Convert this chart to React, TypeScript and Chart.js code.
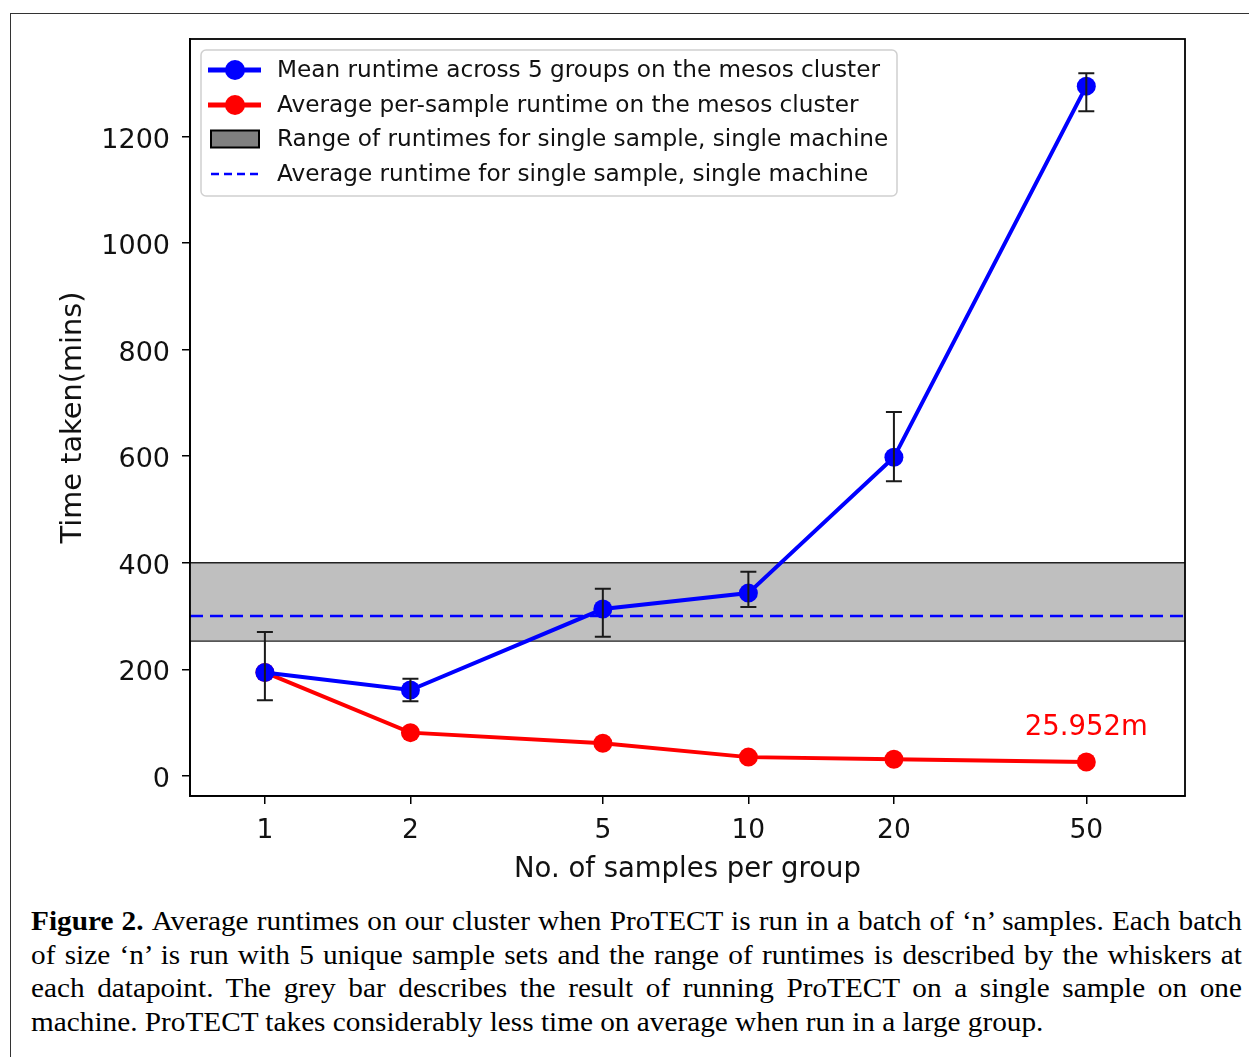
import React, { useEffect, useRef } from "react";
import { Chart, registerables } from "chart.js";

Chart.register(...registerables);

// ---------- data ----------
const groupSizes = [1, 2, 5, 10, 20, 50];
const meanRuntime = [194, 161, 313, 343, 598, 1295];
const meanRuntimeLow = [142, 140, 261, 317, 553, 1248];
const meanRuntimeHigh = [270, 182, 351, 383, 683, 1319];
const perSampleRuntime = [194, 81, 61, 35, 31, 25.952];
const singleMachineRange = [253, 400];
const singleMachineMean = 300;
const xTickValues = [1, 2, 5, 10, 20, 50];
const yTickValues = [0, 200, 400, 600, 800, 1000, 1200];
const legendLabels = [
  "Mean runtime across 5 groups on the mesos cluster",
  "Average per-sample runtime on the mesos cluster",
  "Range of runtimes for single sample, single machine",
  "Average runtime for single sample, single machine",
];
const annotationText = "25.952m";
const annotationAt = { x: 50, y: 77 };
const xTitle = "No. of samples per group";
const yTitle = "Time taken(mins)";
const captionLines = [
  "Average runtimes on our cluster when ProTECT is run in a batch of \u2018n\u2019 samples. Each batch",
  "of size \u2018n\u2019 is run with 5 unique sample sets and the range of runtimes is described by the whiskers at",
  "each datapoint. The grey bar describes the result of running ProTECT on a single sample on one",
  "machine. ProTECT takes considerably less time on average when run in a large group.",
];

const FONT = "'DejaVu Sans', sans-serif";
const BLUE = "#0000ff";
const RED = "#ff0000";

const figurePlugin = {
  id: "figureExtras",
  beforeDatasetsDraw(chart: any) {
    const { ctx, chartArea, scales } = chart;
    const y = scales.y;
    ctx.save();
    // grey band
    const yTop = y.getPixelForValue(singleMachineRange[1]);
    const yBot = y.getPixelForValue(singleMachineRange[0]);
    ctx.fillStyle = "#bfbfbf";
    ctx.fillRect(chartArea.left, yTop, chartArea.right - chartArea.left, yBot - yTop);
    ctx.strokeStyle = "#222";
    ctx.lineWidth = 1.3;
    ctx.beginPath();
    ctx.moveTo(chartArea.left, yTop);
    ctx.lineTo(chartArea.right, yTop);
    ctx.moveTo(chartArea.left, yBot);
    ctx.lineTo(chartArea.right, yBot);
    ctx.stroke();
    // dashed mean line
    const ym = y.getPixelForValue(singleMachineMean);
    ctx.strokeStyle = BLUE;
    ctx.lineWidth = 2.6;
    ctx.setLineDash([13, 7]);
    ctx.beginPath();
    ctx.moveTo(chartArea.left, ym);
    ctx.lineTo(chartArea.right, ym);
    ctx.stroke();
    ctx.restore();
  },
  afterDatasetsDraw(chart: any) {
    const { ctx, scales } = chart;
    const x = scales.x;
    const y = scales.y;
    ctx.save();
    ctx.strokeStyle = "#1a1a1a";
    ctx.lineWidth = 2;
    groupSizes.forEach((g, i) => {
      const px = x.getPixelForValue(g);
      const pLo = y.getPixelForValue(meanRuntimeLow[i]);
      const pHi = y.getPixelForValue(meanRuntimeHigh[i]);
      ctx.beginPath();
      ctx.moveTo(px, pLo);
      ctx.lineTo(px, pHi);
      ctx.moveTo(px - 8, pLo);
      ctx.lineTo(px + 8, pLo);
      ctx.moveTo(px - 8, pHi);
      ctx.lineTo(px + 8, pHi);
      ctx.stroke();
    });
    ctx.restore();
  },
  afterDraw(chart: any) {
    const { ctx, chartArea, scales } = chart;
    const { left, top, right, bottom } = chartArea;
    ctx.save();
    // frame
    ctx.strokeStyle = "#000";
    ctx.lineWidth = 1.8;
    ctx.strokeRect(left, top, right - left, bottom - top);

    // annotation
    ctx.fillStyle = RED;
    ctx.font = `27.5px ${FONT}`;
    ctx.textAlign = "center";
    ctx.textBaseline = "alphabetic";
    ctx.fillText(
      annotationText,
      scales.x.getPixelForValue(annotationAt.x),
      scales.y.getPixelForValue(annotationAt.y)
    );

    // legend
    const lx = left + 11;
    const ly = top + 11;
    const lw = 696;
    const lh = 146;
    ctx.beginPath();
    (ctx as any).roundRect(lx, ly, lw, lh, 5);
    ctx.fillStyle = "rgba(255,255,255,0.85)";
    ctx.fill();
    ctx.strokeStyle = "#d0d0d0";
    ctx.lineWidth = 1.5;
    ctx.stroke();

    const rows = [31, 66, 100, 135].map((d) => top + d);
    // line + marker handles
    [BLUE, RED].forEach((c, i) => {
      ctx.strokeStyle = c;
      ctx.lineWidth = 5;
      ctx.beginPath();
      ctx.moveTo(left + 18, rows[i]);
      ctx.lineTo(left + 71, rows[i]);
      ctx.stroke();
      ctx.fillStyle = c;
      ctx.beginPath();
      ctx.arc(left + 45, rows[i], 10, 0, Math.PI * 2);
      ctx.fill();
    });
    // patch
    ctx.fillStyle = "#808080";
    ctx.fillRect(left + 21, rows[2] - 8.5, 48, 17);
    ctx.strokeStyle = "#000";
    ctx.lineWidth = 2;
    ctx.strokeRect(left + 21, rows[2] - 8.5, 48, 17);
    // dashed
    ctx.strokeStyle = BLUE;
    ctx.lineWidth = 2.4;
    ctx.setLineDash([8, 5]);
    ctx.beginPath();
    ctx.moveTo(left + 21, rows[3]);
    ctx.lineTo(left + 68, rows[3]);
    ctx.stroke();
    ctx.setLineDash([]);
    // texts
    ctx.fillStyle = "#111";
    ctx.font = `23.2px ${FONT}`;
    ctx.textAlign = "left";
    ctx.textBaseline = "middle";
    legendLabels.forEach((t, i) => ctx.fillText(t, left + 87, rows[i] + 1));
    ctx.restore();
  },
};

function App() {
  const canvasRef = useRef<HTMLCanvasElement | null>(null);

  useEffect(() => {
    const canvas = canvasRef.current;
    if (!canvas) return;
    const chart = new Chart(canvas, {
      type: "line",
      data: {
        datasets: [
          {
            label: legendLabels[0],
            data: groupSizes.map((g, i) => ({ x: g, y: meanRuntime[i] })),
            borderColor: BLUE,
            backgroundColor: BLUE,
            borderWidth: 4,
            pointRadius: 9.5,
            pointBorderWidth: 0,
            pointBackgroundColor: BLUE,
            tension: 0,
          },
          {
            label: legendLabels[1],
            data: groupSizes.map((g, i) => ({ x: g, y: perSampleRuntime[i] })),
            borderColor: RED,
            backgroundColor: RED,
            borderWidth: 4,
            pointRadius: 9.5,
            pointBorderWidth: 0,
            pointBackgroundColor: RED,
            tension: 0,
          },
        ],
      },
      options: {
        responsive: false,
        animation: false,
        devicePixelRatio: 1,
        layout: { padding: { left: 0, top: 39, right: 64, bottom: 0 } },
        plugins: {
          legend: { display: false },
          tooltip: { enabled: false },
        },
        scales: {
          x: {
            type: "logarithmic",
            min: 0.7,
            max: 80,
            afterBuildTicks: (s: any) => {
              s.ticks = xTickValues.map((v) => ({ value: v }));
            },
            afterFit: (s: any) => {
              s.height = 104;
            },
            grid: {
              display: true,
              drawOnChartArea: false,
              drawTicks: true,
              tickLength: 8,
              color: "#000",
              lineWidth: 1.5,
            },
            border: { display: true, color: "#000", width: 1.8 },
            ticks: {
              color: "#111",
              font: { family: FONT, size: 26.5 },
              padding: 11,
              maxRotation: 0,
              autoSkip: false,
              callback: (v: any) => String(v),
            },
            title: {
              display: true,
              text: xTitle,
              color: "#111",
              font: { family: FONT, size: 27.5 },
              padding: { top: 0, bottom: 14 },
            },
          },
          y: {
            type: "linear",
            min: -38,
            max: 1383.5,
            afterBuildTicks: (s: any) => {
              s.ticks = yTickValues.map((v) => ({ value: v }));
            },
            afterFit: (s: any) => {
              s.width = 190;
            },
            grid: {
              display: true,
              drawOnChartArea: false,
              drawTicks: true,
              tickLength: 8,
              color: "#000",
              lineWidth: 1.5,
            },
            border: { display: true, color: "#000", width: 1.8 },
            ticks: {
              color: "#111",
              font: { family: FONT, size: 27 },
              padding: 12,
              labelOffset: 4,
              callback: (v: any) => String(v),
            },
            title: {
              display: true,
              text: yTitle,
              color: "#111",
              font: { family: FONT, size: 28.8 },
              padding: { top: 56, bottom: 0 },
            },
          },
        },
      },
      plugins: [figurePlugin],
    } as any);
    return () => chart.destroy();
  }, []);

  const serif = "'Liberation Serif', 'Times New Roman', serif";
  const sx = 1.084;
  return (
    <div
      style={{
        position: "absolute",
        left: 0,
        top: 0,
        width: 1249,
        height: 1057,
        overflow: "hidden",
        background: "#fff",
      }}
    >
      <div
        style={{
          position: "absolute",
          left: 10,
          top: 13,
          width: 1400,
          height: 1200,
          borderLeft: "1.5px solid #333",
          borderTop: "1.5px solid #333",
        }}
      />
      <canvas
        ref={canvasRef}
        width={1249}
        height={900}
        style={{ position: "absolute", left: 0, top: 0, width: 1249, height: 900 }}
      />
      <div
        style={{
          position: "absolute",
          left: 31,
          top: 905,
          width: 1211 / sx,
          transform: `scaleX(${sx})`,
          transformOrigin: "left top",
          fontFamily: serif,
          fontSize: 27,
          lineHeight: "33.6px",
          color: "#000",
        }}
      >
        {captionLines.map((line, i) => (
          <div
            key={i}
            style={{
              textAlign: i === captionLines.length - 1 ? "left" : "justify",
              textAlignLast: i === captionLines.length - 1 ? "left" : "justify",
              whiteSpace: "nowrap",
            }}
          >
            {i === 0 ? <b>Figure 2. </b> : null}
            {line}
          </div>
        ))}
      </div>
    </div>
  );
}

export default App;
